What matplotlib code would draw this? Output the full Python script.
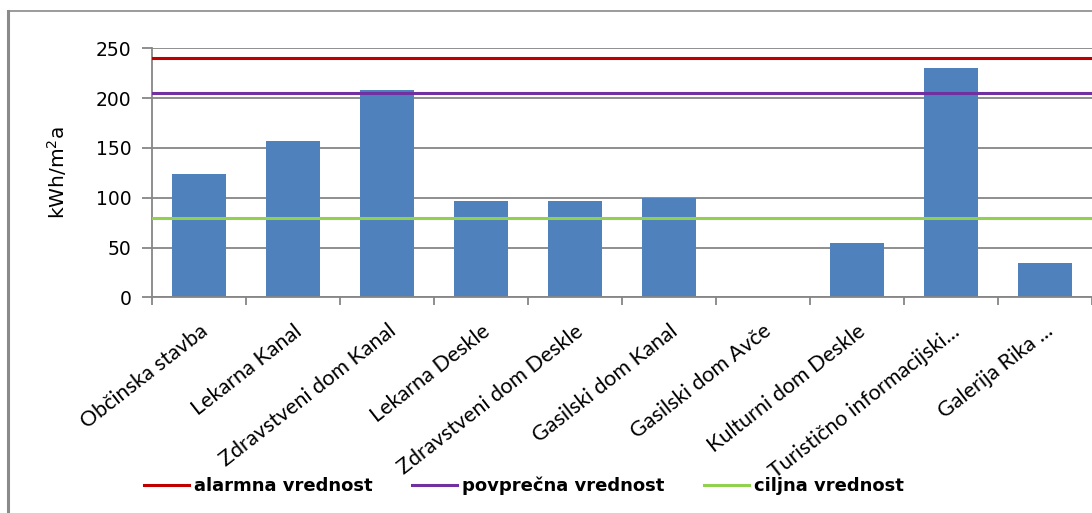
import matplotlib.pyplot as plt
from matplotlib.lines import Line2D

# data
buildings = ['Občinska stavba', 'Lekarna Kanal', 'Zdravstveni dom Kanal', 'Lekarna Deskle',
             'Zdravstveni dom Deskle', 'Gasilski dom Kanal', 'Gasilski dom Avče',
             'Kulturni dom Deskle', 'Turistično informacijski...', 'Galerija Rika ...']
consumption = [124, 157, 208, 97, 97, 100, 0, 55, 230, 34]
alarm_value = 240
average_value = 205
target_value = 80
yticks = [0, 50, 100, 150, 200, 250]

grey = '#868686'

fig = plt.figure(figsize=(10.92, 5.13), dpi=100)
ax = fig.add_axes([152 / 1092, 1 - 297.3 / 513, 1 - 152 / 1092, (297.3 - 48.3) / 513])

x = range(len(buildings))
ax.bar(x, consumption, width=0.575, color='#4F81BD', zorder=2)

l1 = ax.axhline(alarm_value, color='#C00000', lw=2.2, zorder=3)
l2 = ax.axhline(average_value, color='#7030A0', lw=2.2, zorder=3)
l3 = ax.axhline(target_value, color='#92D050', lw=2.2, zorder=3)

ax.set_xlim(-0.5, len(buildings) - 0.5)
ax.set_ylim(0, 250)
ax.set_yticks(yticks)
ax.yaxis.grid(True, color=grey, lw=1.3, zorder=0)
ax.tick_params(axis='y', direction='out', length=7, width=1.3, color=grey,
               labelsize=13.5, pad=8)

# category labels between tick marks at the boundaries
ax.set_xticks([i - 0.5 for i in range(len(buildings) + 1)])
ax.set_xticklabels([])
ax.tick_params(axis='x', direction='out', length=6, width=1.3, color=grey)
ax.set_xticks(list(x), minor=True)
ax.set_xticklabels(buildings, minor=True, rotation=38, ha='right', va='top',
                   rotation_mode='anchor', family=['Lato', 'DejaVu Sans'], fontsize=15.5)
ax.tick_params(axis='x', which='minor', length=0, pad=17)

for side in ['top', 'right']:
    ax.spines[side].set_visible(False)
for side in ['left', 'bottom']:
    ax.spines[side].set_color(grey)
    ax.spines[side].set_linewidth(1.3)

fig.text(57 / 1092, 1 - 173 / 513, 'kWh/m$^2$a', rotation=90, ha='center', va='center',
         fontsize=14.5)

fig.legend([l1, l2, l3], ['alarmna vrednost', 'povprečna vrednost', 'ciljna vrednost'],
           loc='center', bbox_to_anchor=(524 / 1092, 1 - 486 / 513), ncol=3, frameon=False,
           handlelength=2.5, handletextpad=0.28, columnspacing=2.17,
           prop={'weight': 'bold', 'size': 13})

# chart frame (top and left edges visible)
fig.add_artist(Line2D([8 / 1092, 8 / 1092], [0, 1 - 11 / 513], color='#8a8a8a', lw=2.2,
                      transform=fig.transFigure))
fig.add_artist(Line2D([8 / 1092, 1], [1 - 11 / 513, 1 - 11 / 513], color='#8a8a8a', lw=1.2,
                      transform=fig.transFigure))

plt.savefig('out.png', dpi=100)
